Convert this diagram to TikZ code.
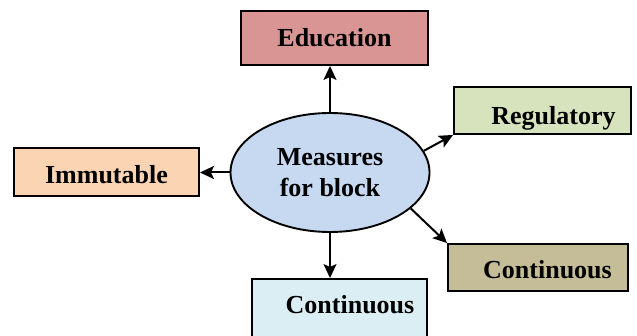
\documentclass[tikz,border=0pt]{standalone}
\usepackage{fontspec}
\setmainfont{Liberation Serif}
\usetikzlibrary{arrows.meta,shapes.geometric}

\definecolor{eduFill}{HTML}{D99594}
\definecolor{regFill}{HTML}{D7E3BC}
\definecolor{immFill}{HTML}{FBD4B4}
\definecolor{ellFill}{HTML}{C6D9F1}
\definecolor{contFill}{HTML}{C4BD97}
\definecolor{contbFill}{HTML}{DAEEF3}

\begin{document}
\begin{tikzpicture}[x=1pt,y=-1pt,
  every node/.style={font=\fontsize{26}{31}\selectfont\bfseries},
  box/.style={draw=black, line width=1.9pt, rectangle, inner sep=0pt,
              text depth=0pt},
  hub/.style={draw=black, line width=1.9pt, ellipse, fill=ellFill,
              minimum width=199pt, minimum height=119pt, inner sep=0pt,
              align=center},
  link/.style={line width=2pt, -{Stealth[length=14pt,width=13pt,inset=3pt]}}
]
\useasboundingbox (0,0) rectangle (637,336);

% central measure
\node[hub] (ell) at (330,172.5) {Measures\\for block};

% surrounding boxes
\node[box, fill=eduFill, minimum width=187pt, minimum height=54pt,
      text height=17.4pt] (edu) at (334.5,38) {Education};
\node[box, fill=regFill, minimum width=177pt, minimum height=47pt,
      text height=27.4pt] (reg) at (542.5,110.5) {\hspace*{22pt}Regulatory};
\node[box, fill=immFill, minimum width=185pt, minimum height=48pt,
      text height=24pt] (imm) at (106.5,172) {Immutable};
\node[box, fill=contFill, minimum width=180pt, minimum height=47pt,
      text height=23pt] (cont) at (538,267.5) {\hspace*{19pt}Continuous};
\node[box, fill=contbFill, minimum width=175pt, minimum height=61pt,
      text height=9pt] (contb) at (339.5,309.5) {\hspace*{21pt}Continuous};

% connectors
\draw[link] (ell.north) -- (ell.north |- edu.south);
\draw[link] (ell.west) -- (ell.west -| imm.east);
\draw[link] (ell.13) -- (reg.south west);
\draw[link] (ell.-24) -- (cont.north west);
\draw[link] (ell.south) -- (ell.south |- contb.north);
\end{tikzpicture}
\end{document}
